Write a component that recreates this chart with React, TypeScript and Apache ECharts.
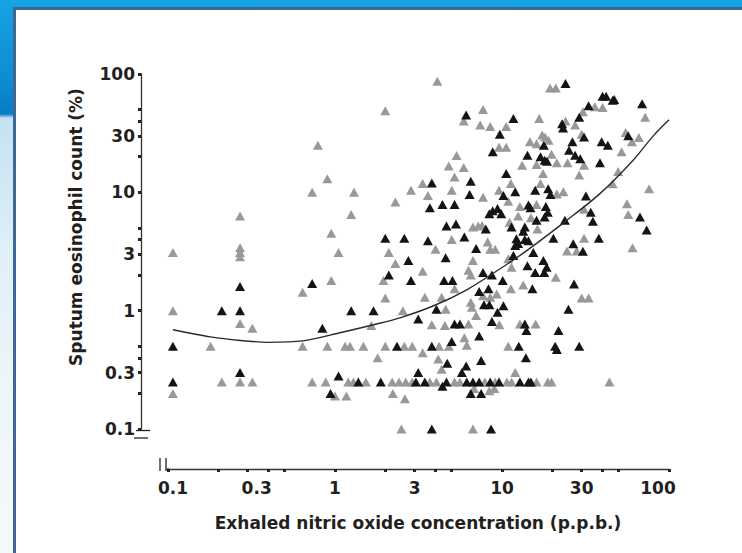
import React, { useEffect, useRef } from "react";
import * as echarts from "echarts";

// Axis tick positions and labels (data units, log scale)
const xTickValues = [0.1, 0.2, 0.3, 0.4, 0.5, 1, 2, 3, 4, 5, 10, 20, 30, 40, 50, 100];
const yTickValues = [0.1, 0.2, 0.3, 0.4, 0.5, 1, 2, 3, 4, 5, 10, 20, 30, 40, 50, 100];
const xLabelValues = [0.1, 0.3, 1, 3, 10, 30, 100];
const yLabelValues = [0.1, 0.3, 1, 3, 10, 30, 100];

const xTitle = "Exhaled nitric oxide concentration (p.p.b.)";
const yTitle = "Sputum eosinophil count (%)";

// Grey triangles: [FeNO (p.p.b.), sputum eosinophils (%)]
const grayPoints: [number, number][] = [
  [2.0, 49], [0.79, 25], [0.9, 13], [0.73, 10], [1.3, 10], [2.3, 8.3], [2.85, 10.4], [0.27, 6.3],
  [1.25, 6.5], [0.95, 4.5], [0.107, 3.1], [0.27, 3.4], [0.27, 3.1], [0.27, 2.85], [1.05, 3.1], [2.1, 3.1],
  [2.3, 2.5], [1.95, 1.8], [0.95, 1.8], [0.64, 1.43], [2.0, 1.28], [0.107, 1.0], [2.55, 1.0], [0.27, 0.78],
  [0.32, 0.71], [1.65, 0.75], [0.18, 0.5], [0.64, 0.5], [0.9, 0.5], [1.15, 0.5], [1.23, 0.5], [1.48, 0.5],
  [2.0, 0.5], [2.6, 0.5], [2.9, 0.5], [1.8, 0.4], [0.21, 0.25], [0.27, 0.25], [0.32, 0.25], [0.73, 0.25],
  [0.88, 0.25], [1.2, 0.25], [1.29, 0.25], [1.53, 0.25], [2.2, 0.25], [2.42, 0.25], [2.65, 0.25], [2.9, 0.25],
  [0.107, 0.2], [1.0, 0.19], [1.17, 0.19], [2.22, 0.2], [2.62, 0.18], [2.5, 0.1],
  [4.1, 87], [5.9, 40], [7.7, 50], [7.4, 37], [8.5, 36], [10.6, 36], [9.6, 24], [10.6, 24],
  [5.35, 20.5], [4.8, 16.7], [5.9, 16.2], [5.2, 13.5], [3.35, 11.9], [3.6, 9.4], [5.0, 10.4], [7.7, 9.1],
  [9.6, 10.4], [6.7, 5.1], [7.2, 5.2], [7.6, 5.25], [5.0, 4.0], [8.2, 3.8], [4.0, 3.3], [8.5, 3.3], [9.1, 3.3],
  [3.35, 2.15], [6.7, 2.65], [6.3, 2.2], [6.5, 2.0], [5.2, 1.53], [7.7, 1.34], [8.5, 1.3], [9.3, 1.38],
  [3.45, 1.3], [4.35, 1.3], [6.5, 1.18], [6.6, 1.07], [4.6, 1.03], [7.0, 0.91], [3.8, 0.76], [4.55, 0.75],
  [6.3, 0.77], [9.65, 0.76], [5.95, 0.59], [6.15, 0.51], [3.35, 0.44], [4.2, 0.5], [4.8, 0.5], [4.15, 0.39],
  [4.35, 0.32], [3.7, 0.25], [4.05, 0.25], [5.2, 0.25], [5.6, 0.25], [7.9, 0.25], [9.1, 0.25], [10.7, 0.25],
  [6.8, 0.22], [9.0, 0.22], [8.4, 0.21], [6.7, 0.1],
  [19.4, 76], [21, 76], [36, 53], [40, 52], [16.7, 42], [24, 40], [30, 31], [14.7, 26.7], [16.1, 25.8],
  [17.4, 30.5], [18.1, 29.4], [19, 27.6], [19.8, 21], [21.3, 17.8], [24.7, 17.8], [31, 16.9], [13.2, 16.9],
  [16.1, 17.2], [17.6, 14.4], [29, 14], [11.3, 11.9], [17, 11.9], [21.3, 9.7], [23.3, 10.1], [10.9, 8.4],
  [12.8, 7.6], [16.1, 7.9], [31, 7.2], [11.1, 5.6], [12.5, 6.3], [14.9, 6.1], [16.3, 4.9], [31, 4.1],
  [24.5, 3.2], [28, 3.2],
  [10.9, 2.75], [11.4, 2.33], [21, 1.92], [11.3, 1.53], [13.4, 1.65], [30, 1.28], [33, 1.28], [12.8, 0.77],
  [15.9, 0.77], [10.9, 0.5], [12, 0.3], [11.4, 0.25], [16.1, 0.25], [18.8, 0.25], [19.8, 0.25], [44, 0.25],
  [72, 43], [55, 32], [66, 29], [60, 26.7], [52, 22], [49.6, 15], [46, 11.8], [76, 10.7], [56, 8], [57, 6.5],
  [60.5, 3.4], [30.5, 48], [27.4, 37],
];

// Black triangles
const blackPoints: [number, number][] = [
  [2.0, 4.1], [2.6, 4.1], [2.75, 2.65], [2.1, 2.0], [2.85, 1.8], [0.27, 1.6], [0.73, 1.7], [0.21, 1.0],
  [0.27, 1.0], [1.25, 1.0], [1.7, 1.0], [0.84, 0.71], [0.107, 0.5], [2.35, 0.5], [0.27, 0.3], [0.107, 0.25],
  [1.05, 0.28], [1.38, 0.25], [1.88, 0.25], [3.05, 0.25], [0.94, 0.2], [3.15, 0.85], [3.15, 0.3],
  [6.1, 45], [9.7, 31], [8.8, 22], [6.5, 12.4], [3.8, 12], [6.4, 9.6], [10.6, 14.4], [10.2, 9.4], [3.7, 7.4],
  [4.4, 7.9], [5.2, 7.9], [8.8, 7.0], [9.4, 7.3], [9.9, 6.6], [8.4, 6.6], [8.0, 4.9], [4.65, 5.2], [5.3, 5.4],
  [3.6, 3.9], [5.95, 4.2], [7.0, 3.35],
  [4.6, 2.8], [7.7, 2.1], [8.7, 2.0], [10.1, 1.8], [4.5, 1.8], [5.05, 1.8], [7.3, 1.45], [8.3, 1.53],
  [4.05, 1.03], [7.8, 1.12], [8.4, 1.12], [10.2, 1.1], [9.4, 0.97], [5.2, 0.77], [5.6, 0.77], [8.7, 0.81],
  [7.3, 0.61], [5.0, 0.55], [3.8, 0.5], [4.7, 0.36], [7.5, 0.38], [6.1, 0.34], [5.75, 0.3], [3.45, 0.25],
  [4.65, 0.25], [6.15, 0.25], [6.7, 0.25], [7.3, 0.25], [8.5, 0.25], [9.6, 0.25], [4.4, 0.23], [6.5, 0.2],
  [7.5, 0.2], [3.8, 0.1], [8.6, 0.1],
  [24, 83], [40, 65], [42, 65], [46, 60], [33, 54], [11.7, 42], [29, 43], [22.9, 38], [23.2, 35], [31, 29.4],
  [39.5, 26.7], [43, 25], [26.4, 26.7], [17.8, 25], [14.2, 20.6], [17, 20], [18, 18.7], [18.6, 18.3],
  [25.2, 22.7], [27.4, 20.6], [29.4, 19.2], [38.6, 17.8], [15.8, 10.4], [18.9, 10.7], [19.5, 9.6], [12, 10.1],
  [31.8, 9.3], [14.4, 7.8], [14.8, 7.4], [18.3, 7.6], [18.8, 6.8], [18, 6.2], [34, 6.8], [16.1, 5.8],
  [23.8, 5.8], [35, 5.7], [11.4, 5.1], [13.7, 5.1], [13.4, 4.7], [12.2, 4.05], [13.7, 4.0], [14.4, 3.9],
  [12.5, 3.7], [12, 3.55], [20.3, 4.1], [38, 4.1], [26.7, 3.67], [30.5, 3.17], [15.4, 3.1],
  [11.7, 2.93], [14.2, 2.4], [17.7, 2.65], [18.5, 2.33], [15.8, 2.1], [17.9, 2.1], [15.2, 1.53], [27, 1.68],
  [25, 1.03], [13.7, 0.77], [14, 0.68], [21.8, 0.68], [12.6, 0.5], [20.8, 0.5], [21.3, 0.47], [29, 0.5],
  [13.9, 0.4], [12.8, 0.25], [14.4, 0.25], [14.9, 0.25],
  [69, 56], [57, 30], [47, 61], [67, 6.2], [73.5, 4.8],
];

// Fitted curve
const fitCurve: [number, number][] = [
  [0.107, 0.69], [0.18, 0.6], [0.27, 0.56], [0.4, 0.54], [0.64, 0.555], [1.07, 0.65], [1.7, 0.76],
  [2.45, 0.87], [3.9, 1.1], [6.15, 1.5], [9.7, 2.25], [14, 3.2], [24.4, 5.8], [38.6, 9.75],
  [61, 18.7], [80.5, 30], [100, 41],
];

const FONT = '"DejaVu Sans", sans-serif';
const TEXT_COLOR = "#231f20";

export default function App() {
  const ref = useRef<HTMLDivElement>(null);

  useEffect(() => {
    if (!ref.current) return;
    const chart = echarts.init(ref.current, null, { renderer: "svg" });
    const labelStyle = {
      fontFamily: FONT,
      fontWeight: "bold" as const,
      fontSize: 17,
      color: TEXT_COLOR,
    };
    chart.setOption({
      animation: false,
      backgroundColor: "transparent",
      grid: { left: 168, right: 73, top: 74, bottom: 124 },
      xAxis: {
        type: "log",
        logBase: 10,
        min: 0.1,
        max: 100,
        offset: 40,
        axisLine: { show: true, lineStyle: { color: "#333", width: 1.3 } },
        axisTick: {
          show: true,
          customValues: xTickValues,
          length: 3,
          lineStyle: { color: "#222", width: 3 },
        },
        axisLabel: {
          show: true,
          customValues: xLabelValues,
          margin: 10,
          formatter: (v: number) => {
            if (Math.abs(v - 0.1) < 1e-9) return "{a|0.1}";
            if (Math.abs(v - 0.3) < 1e-9) return "{b|0.3}";
            if (Math.abs(v - 100) < 1e-9) return "{c|100}";
            return "{n|" + String(v) + "}";
          },
          rich: {
            a: { ...labelStyle, padding: [0, 0, 0, 10] },
            b: { ...labelStyle, padding: [0, 0, 0, 18] },
            c: { ...labelStyle, padding: [0, 22, 0, 0] },
            n: { ...labelStyle },
          },
          ...labelStyle,
        },
        splitLine: { show: false },
        minorTick: { show: false },
      },
      yAxis: {
        type: "log",
        logBase: 10,
        min: 0.1,
        max: 100,
        position: "left",
        offset: 27,
        axisLine: { show: true, lineStyle: { color: "#333", width: 1.3 } },
        axisTick: {
          show: true,
          customValues: yTickValues,
          length: 3,
          lineStyle: { color: "#222", width: 3 },
        },
        axisLabel: {
          show: true,
          customValues: yLabelValues,
          margin: 6,
          formatter: (v: number) => String(v),
          ...labelStyle,
        },
        splitLine: { show: false },
      },
      graphic: [
        // axis break marks
        { type: "line", shape: { x1: 136, y1: 430.5, x2: 150, y2: 430.5 }, style: { stroke: "#222", lineWidth: 1.3 } },
        { type: "line", shape: { x1: 134, y1: 438, x2: 148, y2: 438 }, style: { stroke: "#222", lineWidth: 1.3 } },
        { type: "line", shape: { x1: 160, y1: 458, x2: 160, y2: 471 }, style: { stroke: "#222", lineWidth: 1.3 } },
        { type: "line", shape: { x1: 166, y1: 458, x2: 166, y2: 471 }, style: { stroke: "#222", lineWidth: 1.3 } },
        { type: "line", shape: { x1: 166, y1: 469, x2: 169, y2: 469 }, style: { stroke: "#333", lineWidth: 1.3 } },
        {
          type: "text",
          x: 418,
          y: 523,
          style: {
            text: xTitle,
            fill: TEXT_COLOR,
            font: `bold 17px ${FONT}`,
            align: "center",
            verticalAlign: "middle",
          },
        },
        {
          type: "text",
          x: 76,
          y: 227,
          rotation: Math.PI / 2,
          style: {
            text: yTitle,
            fill: TEXT_COLOR,
            font: `bold 17px ${FONT}`,
            align: "center",
            verticalAlign: "middle",
          },
        },
      ],
      series: [
        {
          type: "scatter",
          name: "grey",
          data: grayPoints,
          symbol: "triangle",
          symbolSize: [10, 9],
          itemStyle: { color: "#999999", opacity: 1 },
          z: 2,
        },
        {
          type: "scatter",
          name: "black",
          data: blackPoints,
          symbol: "triangle",
          symbolSize: [10, 9],
          itemStyle: { color: "#161313", opacity: 1 },
          z: 3,
        },
        {
          type: "line",
          name: "fit",
          data: fitCurve,
          smooth: 0.3,
          showSymbol: false,
          symbol: "none",
          lineStyle: { color: "#2a2a2a", width: 1.4 },
          z: 4,
        },
      ],
    });
    return () => chart.dispose();
  }, []);

  return (
    <div
      style={{
        position: "absolute",
        left: 0,
        top: 0,
        width: 742,
        height: 553,
        overflow: "hidden",
        background:
          "linear-gradient(180deg, #16a3e5 0px, #0f8fd6 70px, #0b7cc6 114px, #c4e2f2 118px, #dff0f8 250px, #eef6fa 400px, #f6f9fb 553px)",
      }}
    >
      <div
        style={{
          position: "absolute",
          left: 13,
          top: 7,
          width: 729,
          height: 546,
          background: "#ffffff",
          borderLeft: "3px solid #3f6694",
          borderTop: "3px solid #3f6694",
          boxSizing: "border-box",
        }}
      />
      <div ref={ref} style={{ position: "absolute", left: 0, top: 0, width: 742, height: 553 }} />
    </div>
  );
}
